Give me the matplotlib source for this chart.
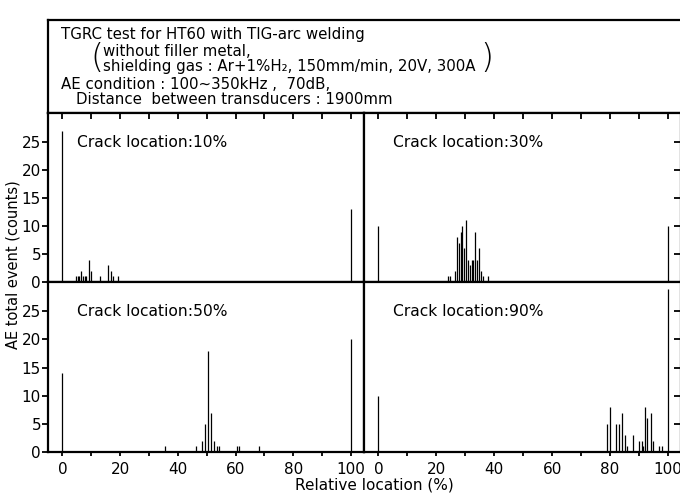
import matplotlib
matplotlib.use("Agg")
import matplotlib.pyplot as plt
import numpy as np

plt.rcParams['font.family'] = ['DejaVu Sans']

W, H = 680, 494

# ---------------- data ----------------
crack10_x = [0, 4.7, 5.3, 5.9, 6.5, 7.1, 7.8, 8.3, 9.1, 10.0, 13.0, 15.7, 16.7, 17.5, 19.2, 100]
crack10_h = [27, 1, 1, 1, 2, 1, 1, 1, 4, 2, 1, 3, 2, 1, 1, 13]

crack30_x = [0, 24.0, 24.7, 26.5, 27.2, 27.8, 28.4, 29.0, 29.6, 30.2, 31.0, 31.6, 32.2, 32.8,
             33.5, 34.1, 34.8, 35.5, 36.2, 38.0, 100]
crack30_h = [10, 1, 1, 2, 8, 7, 9, 10, 6, 11, 4, 3, 4, 4, 9, 4, 6, 2, 1, 1, 10]

crack50_x = [0, 35.5, 46.4, 48.5, 49.3, 50.5, 51.4, 52.5, 53.5, 54.3, 60.4, 61.3, 68.2, 100]
crack50_h = [14, 1, 1, 2, 5, 18, 7, 2, 1, 1, 1, 1, 1, 20]

crack90_x = [0, 79.1, 80.0, 82.0, 83.0, 84.1, 85.1, 86.0, 88.0, 90.1, 90.9, 91.5, 92.0, 92.9,
             94.0, 94.9, 97.0, 97.8, 100]
crack90_h = [10, 5, 8, 5, 5, 7, 3, 1, 3, 2, 2, 1, 8, 6, 7, 2, 1, 1, 29]

panel_titles = ["Crack location:10%", "Crack location:30%",
                "Crack location:50%", "Crack location:90%"]
xticks_major = [0, 20, 40, 60, 80, 100]
yticks = [0, 5, 10, 15, 20, 25]

title_lines = ["TGRC test for HT60 with TIG-arc welding",
               "without filler metal,",
               "shielding gas : Ar+1%H\u2082, 150mm/min, 20V, 300A",
               "AE condition : 100~350kHz ,  70dB,",
               "Distance  between transducers : 1900mm"]
ylabel = "AE total event (counts)"
xlabel = "Relative location (%)"

# ---------------- layout helpers ----------------
def rect(x0, y0, x1, y1):
    return [x0 / W, 1 - y1 / H, (x1 - x0) / W, (y1 - y0) / H]

def px(x, y):
    return x / W, 1 - y / H

fig = plt.figure(figsize=(W / 100, H / 100), dpi=100)

LW = 1.6
XL = (-5, 104.5)
YL = (0, 30.2)

# title box
tax = fig.add_axes(rect(48, 20, 682, 113))
tax.set_xticks([]); tax.set_yticks([])
for s in tax.spines.values():
    s.set_linewidth(LW)

fs_t = 10.8
fig.text(*px(61, 35), title_lines[0], fontsize=fs_t, va='center', ha='left')
fig.text(*px(103, 51), title_lines[1], fontsize=fs_t, va='center', ha='left')
t3 = fig.text(*px(103, 67), title_lines[2], fontsize=fs_t, va='center', ha='left')
fig.text(*px(90, 58), "(", fontsize=24, va='center', ha='left', fontweight='ultralight')
fig.text(*px(480, 58), ")", fontsize=24, va='center', ha='left', fontweight='ultralight')
fig.text(*px(61, 84), title_lines[3], fontsize=fs_t, va='center', ha='left')
fig.text(*px(76, 100), title_lines[4], fontsize=fs_t, va='center', ha='left')

panels = [
    (rect(48, 113, 364, 282), crack10_x, crack10_h, 'left', 'top'),
    (rect(364, 113, 681, 282), crack30_x, crack30_h, 'right', 'top'),
    (rect(48, 282, 364, 452), crack50_x, crack50_h, 'left', 'bottom'),
    (rect(364, 282, 681, 452), crack90_x, crack90_h, 'right', 'bottom'),
]

for (r, xs, hs, side, row), ttl in zip(panels, panel_titles):
    ax = fig.add_axes(r)
    ax.set_xlim(*XL)
    ax.set_ylim(*YL)
    ax.vlines(xs, 0, hs, color='black', lw=0.9)
    for s in ax.spines.values():
        s.set_linewidth(LW)
    ax.text(5, 25, ttl, fontsize=11.2, va='center', ha='left')
    ax.set_yticks(yticks)
    if side == 'left':
        ax.tick_params(axis='y', which='both', left=True, right=False, labelleft=True,
                       direction='out', length=4, width=1.3, labelsize=11, pad=1)
    else:
        ax.tick_params(axis='y', which='both', left=False, right=True, labelleft=False,
                       direction='in', length=5, width=1.3)
        ax.set_yticks([5, 10, 15, 20, 25])
    ax.set_xticks(xticks_major)
    ax.set_xticks(np.arange(0, 101, 10), minor=True)
    if row == 'top':
        ax.tick_params(axis='x', which='both', bottom=False, top=True, labelbottom=False,
                       direction='in', length=4, width=1.3)
    else:
        ax.tick_params(axis='x', which='both', bottom=True, top=False, labelbottom=True,
                       direction='out', length=3, width=1.3, labelsize=11, pad=4)

fig.text(*px(13, 265), ylabel, fontsize=10.5, rotation=90, va='center', ha='center')
fig.text(*px(374, 485), xlabel, fontsize=11, va='center', ha='center')

fig.savefig("out.png", dpi=100)
